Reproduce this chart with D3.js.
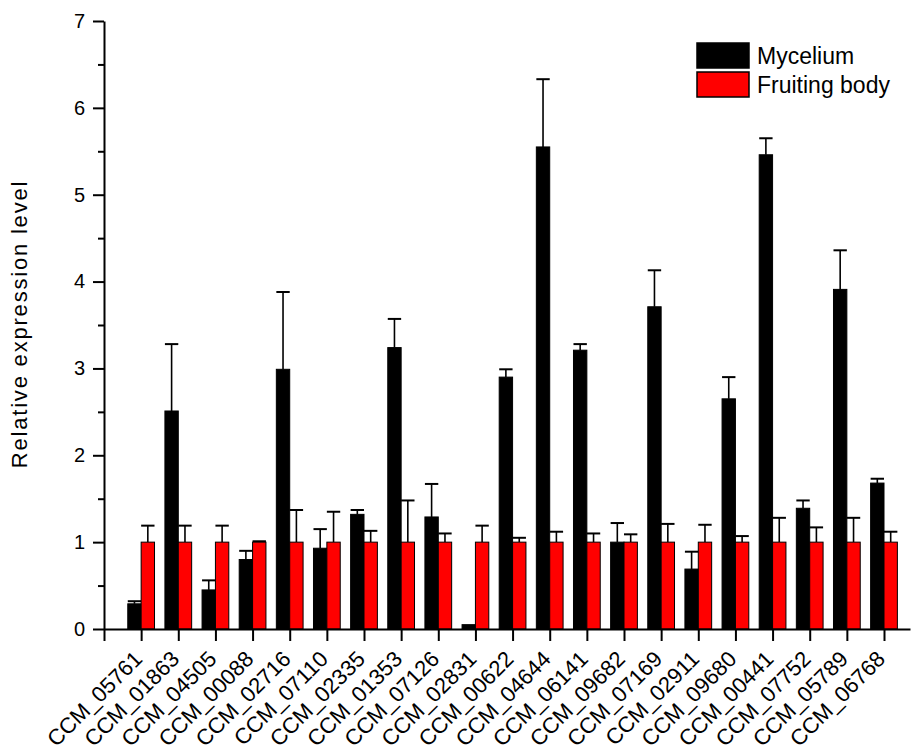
<!DOCTYPE html>
<html>
<head>
<meta charset="utf-8">
<script src="https://cdn.jsdelivr.net/npm/d3@7"></script>
<style>
  body { margin: 0; background: #fff; }
  text { font-family: "Liberation Sans", Arial, sans-serif; fill: #000; }
</style>
</head>
<body>
<svg id="chart" width="915" height="755"></svg>
<script>
// genes on the x axis
var genes = ["CCM_05761", "CCM_01863", "CCM_04505", "CCM_00088", "CCM_02716", "CCM_07110", "CCM_02335",
  "CCM_01353", "CCM_07126", "CCM_02831", "CCM_00622", "CCM_04644", "CCM_06141", "CCM_09682",
  "CCM_07169", "CCM_02911", "CCM_09680", "CCM_00441", "CCM_07752", "CCM_05789", "CCM_06768"];

// relative expression, mycelium (mean and upper error)
var mycelium    = [0.29, 2.51, 0.45, 0.80, 2.99, 0.93, 1.32, 3.24, 1.29, 0.05, 2.90, 5.55, 3.21, 1.00, 3.71, 0.69, 2.65, 5.46, 1.39, 3.91, 1.68];
var myceliumErr = [0.03, 0.77, 0.11, 0.10, 0.89, 0.22, 0.05, 0.33, 0.38, 0.00, 0.09, 0.78, 0.07, 0.22, 0.42, 0.20, 0.25, 0.19, 0.09, 0.45, 0.05];

// fruiting body is the reference (=1)
var fruiting    = [1, 1, 1, 1, 1, 1, 1, 1, 1, 1, 1, 1, 1, 1, 1, 1, 1, 1, 1, 1, 1];
var fruitingErr = [0.19, 0.19, 0.19, 0.01, 0.37, 0.35, 0.13, 0.48, 0.10, 0.19, 0.05, 0.12, 0.10, 0.09, 0.21, 0.20, 0.07, 0.28, 0.17, 0.28, 0.12];

var yTicks = [0, 1, 2, 3, 4, 5, 6, 7];
var seriesNames = ["Mycelium", "Fruiting body"];
var seriesColors = ["#000000", "#ff0000"];

var svg = d3.select("#chart");

var x = d3.scaleLinear().domain([0, 21.7]).range([104, 910]);
var y = d3.scaleLinear().domain([0, 7]).range([629, 21]);
var bw = 0.36; // bar width in category units

// minor y ticks
var yAxisMinor = d3.axisLeft(y).tickValues(d3.range(0.5, 7, 1)).tickSize(6).tickFormat("");
svg.append("g").attr("transform", "translate(104,0)").call(yAxisMinor)
  .call(g => g.select(".domain").remove())
  .selectAll("line").attr("stroke-width", 2);

var yAxis = d3.axisLeft(y).tickValues(yTicks).tickSize(11).tickSizeOuter(0).tickPadding(8)
  .tickFormat(d3.format("d"));
var gy = svg.append("g").attr("transform", "translate(104,0)").call(yAxis);
gy.select(".domain").attr("stroke-width", 2);
gy.selectAll("line").attr("stroke-width", 2);
gy.selectAll("text").style("font-size", "20px");

// bars
var rows = genes.map(function(g, i){
  return {gene: g, pos: i + 1, m: mycelium[i], me: myceliumErr[i], f: fruiting[i], fe: fruitingErr[i]};
});

var bars = svg.append("g");
rows.forEach(function(d){
  [[d.m, d.me, d.pos - bw, 0], [d.f, d.fe, d.pos, 1]].forEach(function(s){
    var x0 = x(s[2]), x1 = x(s[2] + bw);
    var cx = (x0 + x1) / 2;
    if (s[1] > 0) {
      bars.append("line").attr("x1", cx).attr("x2", cx)
        .attr("y1", y(s[0])).attr("y2", y(s[0] + s[1]))
        .attr("stroke", "#000").attr("stroke-width", 1.6);
      bars.append("line").attr("x1", x0).attr("x2", x1)
        .attr("y1", y(s[0] + s[1])).attr("y2", y(s[0] + s[1]))
        .attr("stroke", "#000").attr("stroke-width", 2);
    }
    bars.append("rect")
      .attr("x", x0).attr("width", x1 - x0)
      .attr("y", y(s[0])).attr("height", y(0) - y(s[0]))
      .attr("fill", seriesColors[s[3]])
      .attr("stroke", "#000").attr("stroke-width", 1);
  });
});

// x axis
var xAxis = d3.axisBottom(x).tickValues(d3.range(0, 22)).tickSize(12).tickSizeOuter(0)
  .tickFormat(function(v){ return v > 0 ? genes[v - 1] : ""; });
var gx = svg.append("g").attr("transform", "translate(0,629)").call(xAxis);
gx.select(".domain").attr("stroke-width", 2);
gx.selectAll("line").attr("stroke-width", 2);
gx.selectAll("text")
  .style("font-size", "22px")
  .attr("text-anchor", "end")
  .attr("y", 0).attr("dy", "0.35em")
  .attr("transform", "translate(-3.5,26) rotate(-45)");

// y label
svg.append("text")
  .attr("transform", "translate(27,324) rotate(-90)")
  .attr("text-anchor", "middle")
  .style("font-size", "22px")
  .style("letter-spacing", "1.8px")
  .text("Relative expression level");

// legend
var legend = svg.append("g");
seriesNames.forEach(function(n, i){
  legend.append("rect").attr("x", 697).attr("y", 43 + i * 29).attr("width", 52).attr("height", 25)
    .attr("fill", seriesColors[i]).attr("stroke", "#000").attr("stroke-width", 1.5);
  legend.append("text").attr("x", 757).attr("y", 56 + i * 29).attr("dy", "0.35em")
    .style("font-size", "23px").text(n);
});
</script>
</body>
</html>
